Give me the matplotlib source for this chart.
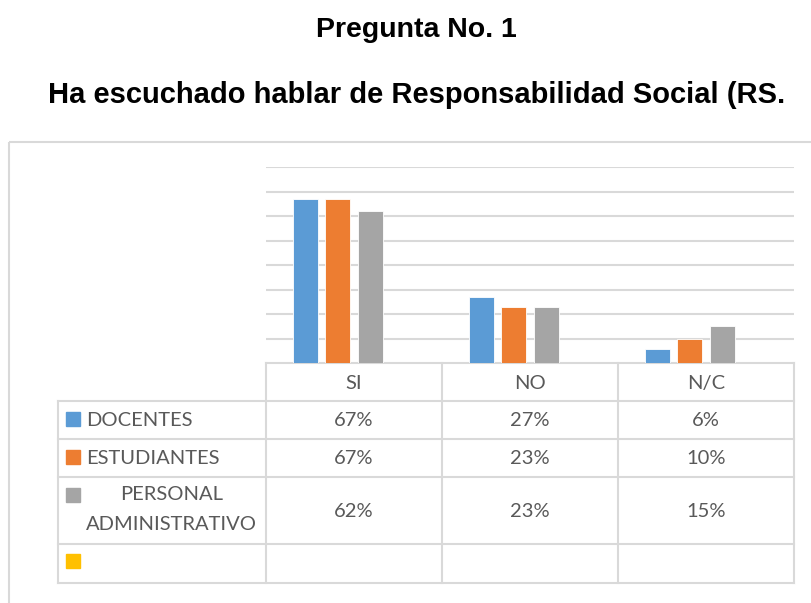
import numpy as np
import matplotlib.pyplot as plt
from matplotlib.patches import Rectangle

# Datos de la pregunta 1
categorias = ['SI', 'NO', 'N/C']
series = ['DOCENTES', 'ESTUDIANTES', 'PERSONAL\nADMINISTRATIVO', '']
docentes = [0.67, 0.27, 0.06]
estudiantes = [0.67, 0.23, 0.10]
administrativo = [0.62, 0.23, 0.15]
vacia = [0, 0, 0]
colores = ['#5B9BD5', '#ED7D31', '#A5A5A5', '#FFC000']

valores = [docentes, estudiantes, administrativo, vacia]
gris_texto = '#595959'
gris_linea = '#D9D9D9'
fuente = 'Lato'
tam = 14.5

W, H = 811, 603
fig = plt.figure(figsize=(W / 100, H / 100), dpi=100)

# capa en pixeles para el marco, la tabla y los titulos
capa = fig.add_axes([0, 0, 1, 1])
capa.set_xlim(0, W)
capa.set_ylim(H, 0)
capa.axis('off')

capa.text(416, 37, 'Pregunta No. 1', ha='center', va='baseline',
          fontsize=20.5, fontweight='bold', family='Liberation Sans')
capa.text(416.5, 103, 'Ha escuchado hablar de Responsabilidad Social (RS.', ha='center',
          va='baseline', fontsize=21, fontweight='bold', family='Liberation Sans')

capa.add_patch(Rectangle((8.5, 142), 900, 500, fill=False, ec=gris_linea, lw=1.5))

# grafico de barras
x0, x1, ytop, ybase = 266, 794, 167, 363.3
ax = fig.add_axes([x0 / W, 1 - ybase / H, (x1 - x0) / W, (ybase - ytop) / H])
ax.set_xlim(0, len(categorias))
ax.set_ylim(0, 0.8)
ax.set_yticks(np.arange(0.1, 0.81, 0.1))
ax.grid(axis='y', color=gris_linea, lw=1.5)
ax.set_axisbelow(True)
for s in ax.spines.values():
    s.set_visible(False)
ax.set_xticks([])
ax.tick_params(left=False, labelleft=False)
ax.patch.set_alpha(0)

centros = np.arange(len(categorias)) + 0.5
paso = 0.182
for i, v in enumerate(valores):
    ax.bar(centros + (i - 1.5) * paso, v, width=0.142, color=colores[i],
           edgecolor='white', linewidth=0.6, zorder=3)

# tabla de datos
cols = [58, 266, 442, 618, 794]
filas = [363.3, 401, 439, 477, 544, 582.5]
lw = 1.5
capa.plot([cols[1], cols[-1]], [filas[0], filas[0]], color=gris_linea, lw=lw)
for y in filas[1:]:
    capa.plot([cols[0], cols[-1]], [y, y], color=gris_linea, lw=lw)
capa.plot([cols[0], cols[0]], [filas[1], filas[-1]], color=gris_linea, lw=lw)
for x in cols[1:]:
    capa.plot([x, x], [filas[0], filas[-1]], color=gris_linea, lw=lw)

for j, c in enumerate(categorias):
    xc = (cols[j + 1] + cols[j + 2]) / 2
    capa.text(xc, (filas[0] + filas[1]) / 2 + 1, c, ha='center', va='center',
              fontsize=tam, color=gris_texto, family=fuente)

for i, nombre in enumerate(series):
    ya, yb = filas[i + 1], filas[i + 2]
    ym = (ya + yb) / 2
    cuad_y = ya + 11 if i < 3 else ya + 10
    capa.add_patch(Rectangle((66, cuad_y), 14, 14, color=colores[i]))
    if '\n' in nombre:
        p1, p2 = nombre.split('\n')
        capa.text(172, ya + 18, p1, ha='center', va='center', fontsize=tam,
                  color=gris_texto, family=fuente)
        capa.text(86, ya + 47, p2, ha='left', va='center', fontsize=tam,
                  color=gris_texto, family=fuente)
    else:
        capa.text(86, ym + 1, nombre, ha='left', va='center', fontsize=tam,
                  color=gris_texto, family=fuente)
    if nombre:
        for j in range(len(categorias)):
            xc = (cols[j + 1] + cols[j + 2]) / 2
            capa.text(xc, ym + 1, '{:.0%}'.format(valores[i][j]), ha='center',
                      va='center', fontsize=tam, color=gris_texto, family=fuente)

fig.savefig('out.png', dpi=100)
